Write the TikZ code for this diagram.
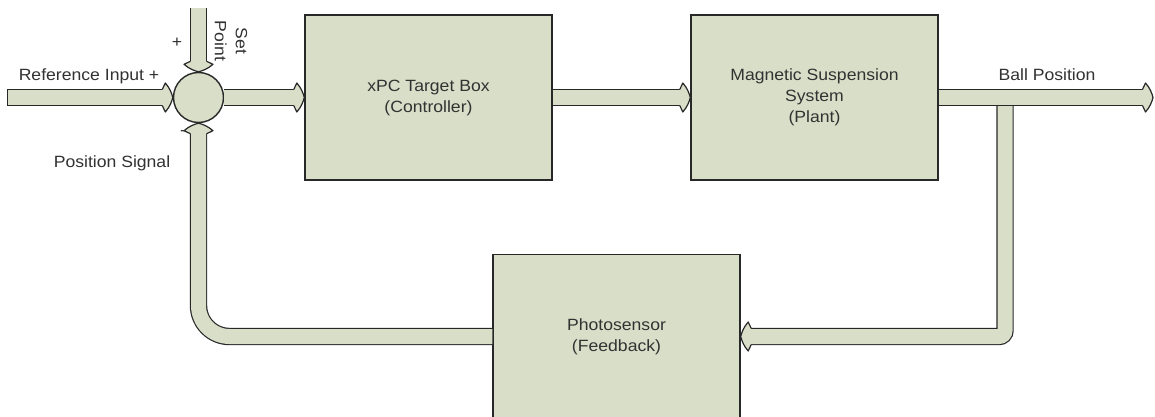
\documentclass[tikz,border=0pt]{standalone}
\usepackage{fontspec}
\setmainfont{Liberation Sans}[FakeStretch=1.08]
\usetikzlibrary{calc}
\definecolor{bandfill}{RGB}{217,222,200}
\definecolor{edge}{RGB}{40,40,40}
\definecolor{ink}{RGB}{50,50,50}
\newcommand\lblfont{\fontsize{16.3}{21}\selectfont}
\tikzset{
  block/.style={draw=edge, line width=1.4pt, fill=bandfill, minimum width=247pt,
    minimum height=165pt, inner sep=0pt, align=center, font=\lblfont, text=ink},
  junction/.style={circle, draw=edge, line width=1.4pt, fill=bandfill, minimum size=50pt, inner sep=0pt},
  band/.style={draw=edge, line width=1.2pt, double=bandfill, double distance=15pt},
  bandline/.style={draw=edge, line width=1.2pt, line join=round},
  lbl/.style={font=\lblfont, text=ink, inner sep=0pt, align=center},
  fathead/.pic={
    \fill[bandfill] (-10.5,-8.1) -- (-10.5,8.1) -- (-7.5,14.5)
      .. controls (-3,9.5) and (-1,4) .. (0,0)
      .. controls (-1,-4) and (-3,-9.5) .. (-7.5,-14.5) -- cycle;
    \draw[bandline] (-10.5,8.1) -- (-7.5,14.5)
      .. controls (-3,9.5) and (-1,4) .. (0,0)
      .. controls (-1,-4) and (-3,-9.5) .. (-7.5,-14.5) -- (-10.5,-8.1);
  }
}
\begin{document}
\begin{tikzpicture}[x=1pt, y=-1pt]
  \useasboundingbox (0,0) rectangle (1155,417);
  \clip (0,0) rectangle (1155,417);
  \fill[white] (0,0) rectangle (1155,417);

  % blocks and summing junction
  \node[junction] (sum) at (198.5,97.5) {};
  \node[block] (ctrl) at (428.5,97.5) {xPC Target Box\\(Controller)};
  \node[block] (plant) at (814.5,97.5) {Magnetic Suspension\\System\\(Plant)};
  \node[block, minimum height=164pt] (sensor) at (616.5,336.5) {Photosensor\\(Feedback)};

  % free ends of the signal lines
  \coordinate (refin) at (7.5,97.5);
  \coordinate (sp) at (198.5,8);
  \coordinate (out) at (1153,97.5);
  \coordinate (tee) at (1005,97.5);

  % feedback branch from the output to the photosensor
  \draw[band, rounded corners=6pt] (tee) -- (tee |- sensor.east) -- ([xshift=10pt]sensor.east);
  \pic[rotate=180] at (sensor.east) {fathead};

  % feedback from the photosensor back to the junction
  \draw[band, rounded corners=31pt] (sensor.west) -- (sum.south |- sensor.west) -- ([yshift=-10pt]sum.south);
  \pic[rotate=90] at (sum.south) {fathead};

  % forward path
  \draw[band] (refin) -- ([xshift=-10pt]sum.west);
  \draw[bandline] ([yshift=8.1pt]refin) -- ([yshift=-8.1pt]refin);
  \pic at (sum.west) {fathead};

  \draw[band] (sp) -- ([yshift=10pt]sum.north);
  \pic[rotate=-90] at (sum.north) {fathead};

  \draw[band] (sum.east) -- ([xshift=-10pt]ctrl.west);
  \pic at (ctrl.west) {fathead};

  \draw[band] (ctrl.east) -- ([xshift=-10pt]plant.west);
  \pic at (plant.west) {fathead};

  \draw[band] (plant.east) -- ([xshift=-10pt]out);
  \pic at (out) {fathead};

  % labels
  \node[lbl] (lref) at (89,76) {Reference Input +};
  \node[lbl] (lplus) at (177,43) {+};
  \node[lbl, rotate=-90] (lsp) at (231,41) {Set\\Point};
  \node[lbl] (lminus) at (183,133) {-};
  \node[lbl] (lpos) at (112,163) {Position Signal};
  \node[lbl] (lball) at (1047,75) {Ball Position};
\end{tikzpicture}
\end{document}
